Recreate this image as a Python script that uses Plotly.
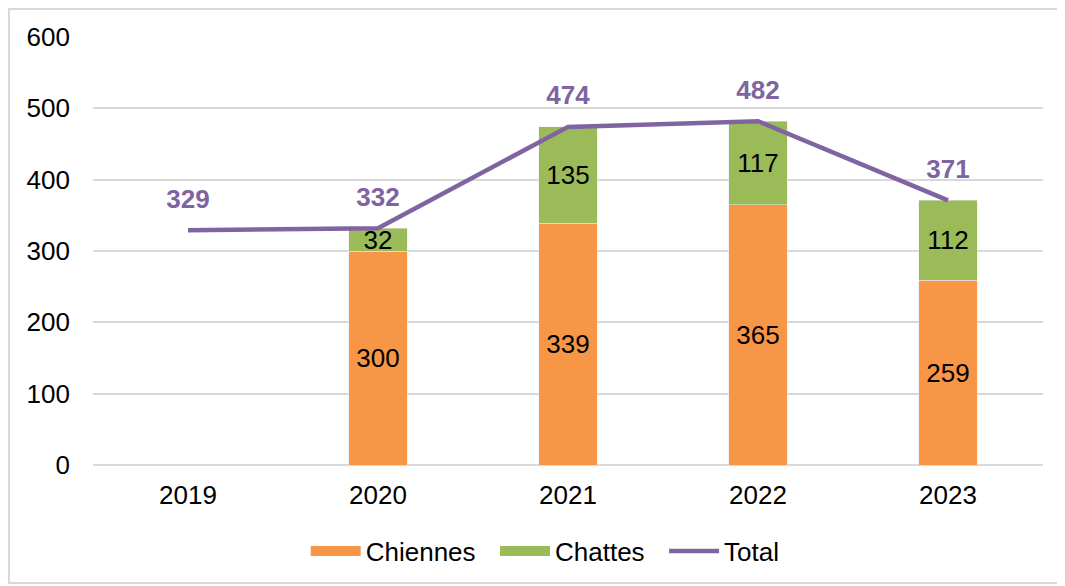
import plotly.graph_objects as go

years = ["2019", "2020", "2021", "2022", "2023"]
chiennes = [None, 300, 339, 365, 259]
chattes = [None, 32, 135, 117, 112]
total = [329, 332, 474, 482, 371]

FONT = "Liberation Sans, Arial, sans-serif"
ORANGE = "#F79646"
GREEN = "#9BBB59"
PURPLE = "#8064A2"
FS = 26
PAD = "\u00a0\u00a0"

fig = go.Figure()
fig.add_trace(go.Bar(
    x=years, y=chiennes, name="Chiennes", marker_color=ORANGE, showlegend=False,
    text=chiennes, textposition="inside", insidetextanchor="middle", textangle=0,
    textfont=dict(color="black", size=FS, family=FONT),
))
fig.add_trace(go.Bar(
    x=years, y=chattes, name="Chattes", marker_color=GREEN, showlegend=False,
    text=chattes, textposition="inside", insidetextanchor="middle", textangle=0,
    textfont=dict(color="black", size=FS, family=FONT),
))
fig.add_trace(go.Scatter(
    x=years, y=total, name="Total", mode="lines+markers+text", showlegend=False,
    line=dict(color=PURPLE, width=4.5),
    marker=dict(size=24, opacity=0, color=PURPLE),
    text=total, textposition="top center",
    textfont=dict(color=PURPLE, size=FS, family=FONT, weight="bold"),
))
# legend entries
fig.add_trace(go.Scatter(x=[None], y=[None], name="Chiennes" + PAD, mode="lines",
                         line=dict(color=ORANGE, width=14)))
fig.add_trace(go.Scatter(x=[None], y=[None], name="Chattes" + PAD, mode="lines",
                         line=dict(color=GREEN, width=14)))
fig.add_trace(go.Scatter(x=[None], y=[None], name="Total", mode="lines",
                         line=dict(color=PURPLE, width=4.5)))

W, H = 1057, 578
L, R, T, B = 85, 22, 29, 121
pw, ph = W - L - R, H - T - B

fig.update_layout(
    width=W, height=H,
    margin=dict(l=L, r=R, t=T, b=B),
    barmode="stack", bargap=0.69,
    plot_bgcolor="white", paper_bgcolor="white",
    font=dict(family=FONT, size=FS, color="black"),
    uniformtext=dict(minsize=FS, mode="show"),
    showlegend=True,
    legend=dict(orientation="h", x=0.476, xanchor="center", y=-86 / ph, yanchor="middle",
                font=dict(size=FS), itemwidth=50, traceorder="normal"),
    xaxis=dict(showgrid=False, showline=False, ticks="", tickfont=dict(size=FS),
               ticklabelstandoff=12),
    yaxis=dict(range=[0, 600], dtick=100, showgrid=True, gridcolor="#D9D9D9", gridwidth=2,
               zeroline=True, zerolinecolor="#D9D9D9", zerolinewidth=2,
               showline=False, ticks="", tickfont=dict(size=FS), ticklabelstandoff=22),
    shapes=[dict(type="rect", xref="paper", yref="paper",
                 x0=(1 - L) / pw, x1=(1054 - L) / pw,
                 y0=(H - B - 575) / ph, y1=(H - B - 1) / ph,
                 line=dict(color="#D9D9D9", width=2), fillcolor="rgba(0,0,0,0)", layer="below")],
)

fig.write_html("out.html")
